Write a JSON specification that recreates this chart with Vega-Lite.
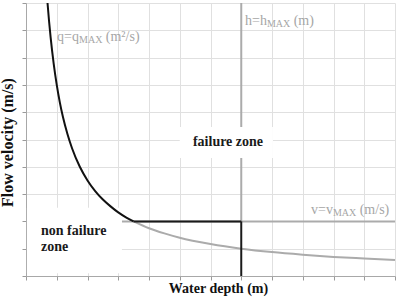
{
  "$schema": "https://vega.github.io/schema/vega-lite/v6.json",
  "width": 369,
  "height": 273,
  "autosize": {"type": "none"},
  "padding": {"left": 26, "top": 3, "right": 4, "bottom": 23},
  "background": "white",
  "config": {
    "view": {"stroke": null},
    "font": "Liberation Serif",
    "mark": {"font": "Liberation Serif"},
    "text": {"font": "Liberation Serif"},
    "axis": {
      "labels": false,
      "tickSize": 4,
      "tickColor": "#9a9a9a",
      "domainColor": "#a8a8a8",
      "gridColor": "#e0e0e0",
      "gridWidth": 1,
      "titleFont": "Liberation Serif",
      "titleFontWeight": "bold",
      "titleColor": "#111111"
    }
  },
  "datasets": {
    "blackCurve": [
      {"x": 0.7, "y": 10}, {"x": 0.75, "y": 9.33}, {"x": 0.8, "y": 8.75}, {"x": 0.9, "y": 7.78},
      {"x": 1.0, "y": 7.0}, {"x": 1.1, "y": 6.36}, {"x": 1.2, "y": 5.83}, {"x": 1.35, "y": 5.19},
      {"x": 1.5, "y": 4.67}, {"x": 1.75, "y": 4.0}, {"x": 2.0, "y": 3.5}, {"x": 2.25, "y": 3.11},
      {"x": 2.5, "y": 2.8}, {"x": 2.75, "y": 2.55}, {"x": 3.0, "y": 2.33}, {"x": 3.25, "y": 2.15},
      {"x": 3.5, "y": 2.0}
    ],
    "grayCurve": [
      {"x": 3.5, "y": 2.0}, {"x": 4.0, "y": 1.75}, {"x": 4.5, "y": 1.56}, {"x": 5.0, "y": 1.4},
      {"x": 6.0, "y": 1.17}, {"x": 7.0, "y": 1.0}, {"x": 8.0, "y": 0.875}, {"x": 9.0, "y": 0.78},
      {"x": 10.0, "y": 0.7}, {"x": 11.0, "y": 0.64}, {"x": 12.0, "y": 0.583}
    ],
    "grayRules": [
      {"x": 7, "y": 2, "x2": 7, "y2": 10},
      {"x": 3.12, "y": 2, "x2": 12, "y2": 2}
    ],
    "blackRules": [
      {"x": 7, "y": 0, "x2": 7, "y2": 2},
      {"x": 3.5, "y": 2, "x2": 7, "y2": 2}
    ],
    "boxes": [
      {"x": 5.0, "x2": 8.03, "y": 4.32, "y2": 5.46},
      {"x": 0.03, "x2": 3.12, "y": 0.1, "y2": 2.5}
    ],
    "grayText": [
      {"t": "q=q", "x": 1.008, "y": 8.61},
      {"t": "(m²/s)", "x": 2.595, "y": 8.61},
      {"t": "h=h", "x": 7.122, "y": 9.194},
      {"t": "(m)", "x": 8.706, "y": 9.194},
      {"t": "v=v", "x": 9.268, "y": 2.271},
      {"t": "(m/s)", "x": 10.852, "y": 2.271}
    ],
    "subText": [
      {"t": "MAX", "x": 1.724, "y": 8.61},
      {"t": "MAX", "x": 7.834, "y": 9.194},
      {"t": "MAX", "x": 9.98, "y": 2.271}
    ],
    "zoneCenter": [
      {"t": "failure zone", "x": 6.569, "y": 4.762}
    ],
    "zoneLeft": [
      {"t": "non failure", "x": 0.488, "y": 1.502},
      {"t": "zone", "x": 0.488, "y": 0.916}
    ]
  },
  "encoding": {
    "x": {
      "field": "x", "type": "quantitative",
      "scale": {"domain": [0, 12], "nice": false, "zero": false},
      "axis": {
        "title": "Water depth (m)",
        "values": [0, 1, 2, 3, 4, 5, 6, 7, 8, 9, 10, 11, 12],
        "titleFontSize": 14,
        "titleX": 192,
        "titleY": 5,
        "titleBaseline": "top",
        "titleAlign": "center"
      }
    },
    "y": {
      "field": "y", "type": "quantitative",
      "scale": {"domain": [0, 10], "nice": false, "zero": false},
      "axis": {
        "title": "Flow velocity (m/s)",
        "values": [0, 1, 2, 3, 4, 5, 6, 7, 8, 9, 10],
        "titleFontSize": 16,
        "titleX": -11,
        "titleY": 139,
        "titleAngle": 270,
        "titleBaseline": "bottom",
        "titleAlign": "center"
      }
    }
  },
  "layer": [
    {
      "data": {"name": "grayRules"},
      "mark": {"type": "rule", "color": "#ababab", "strokeWidth": 2},
      "encoding": {
        "x2": {"field": "x2"},
        "y2": {"field": "y2"}
      }
    },
    {
      "data": {"name": "grayCurve"},
      "mark": {"type": "line", "color": "#ababab", "strokeWidth": 2, "interpolate": "monotone"},
      "encoding": {}
    },
    {
      "data": {"name": "boxes"},
      "mark": {"type": "rect", "color": "white"},
      "encoding": {
        "x2": {"field": "x2"},
        "y2": {"field": "y2"}
      }
    },
    {
      "data": {"name": "blackRules"},
      "mark": {"type": "rule", "color": "#1a1a1a", "strokeWidth": 2},
      "encoding": {
        "x2": {"field": "x2"},
        "y2": {"field": "y2"}
      }
    },
    {
      "data": {"name": "blackCurve"},
      "mark": {"type": "line", "color": "#111111", "strokeWidth": 2, "interpolate": "monotone"},
      "encoding": {}
    },
    {
      "data": {"name": "grayText"},
      "mark": {"type": "text", "font": "Liberation Serif", "fontSize": 14, "color": "#a6a6a6", "align": "left", "baseline": "alphabetic"},
      "encoding": {
        "text": {"field": "t"}
      }
    },
    {
      "data": {"name": "subText"},
      "mark": {"type": "text", "font": "Liberation Serif", "fontSize": 10, "color": "#a6a6a6", "align": "left", "baseline": "alphabetic", "dy": 2},
      "encoding": {
        "text": {"field": "t"}
      }
    },
    {
      "data": {"name": "zoneCenter"},
      "mark": {"type": "text", "font": "Liberation Serif", "fontSize": 14, "fontWeight": "bold", "color": "#1a1a1a", "align": "center", "baseline": "alphabetic"},
      "encoding": {
        "text": {"field": "t"}
      }
    },
    {
      "data": {"name": "zoneLeft"},
      "mark": {"type": "text", "font": "Liberation Serif", "fontSize": 14, "fontWeight": "bold", "color": "#1a1a1a", "align": "left", "baseline": "alphabetic"},
      "encoding": {
        "text": {"field": "t"}
      }
    }
  ]
}
